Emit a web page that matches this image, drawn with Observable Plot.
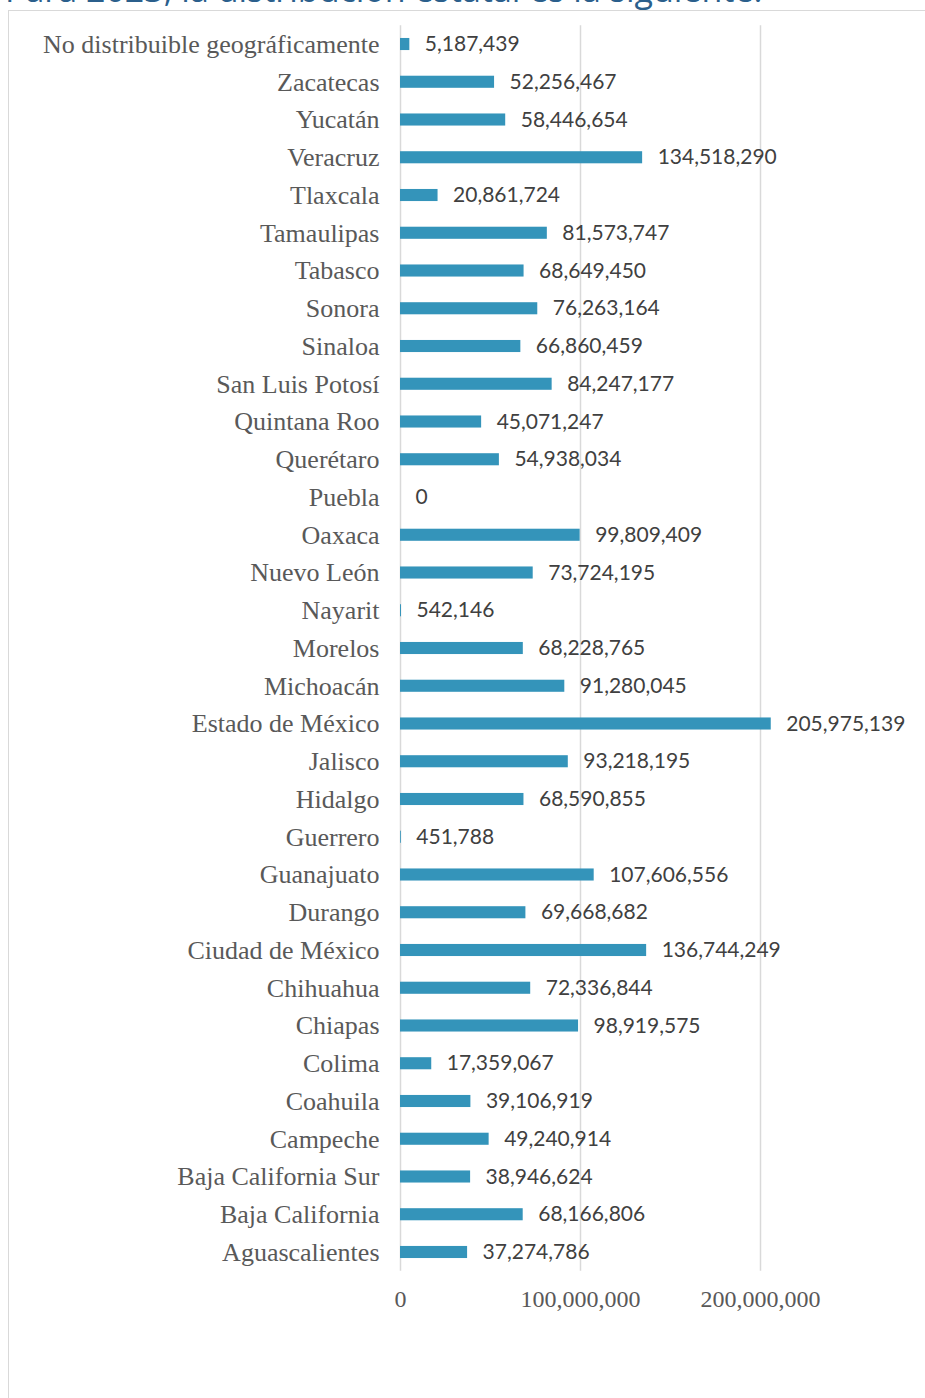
<!DOCTYPE html>
<html>
<head>
<meta charset="utf-8">
<script src="https://cdn.jsdelivr.net/npm/d3@7"></script>
<script src="https://cdn.jsdelivr.net/npm/@observablehq/plot@0.6"></script>
<style>
  html, body { margin: 0; padding: 0; background: #fff; }
  #wrap { position: relative; width: 925px; height: 1398px; overflow: hidden; }
  #title { position: absolute; left: 5px; top: -27.6px; font-family: "Open Sans", sans-serif; font-size: 34px; line-height: 34px; color: #2b5f8c; white-space: nowrap; }
  #frame { position: absolute; left: 8px; top: 10px; right: -2px; bottom: -2px; border-left: 1.5px solid #d9d9d9; border-top: 1.5px solid #d9d9d9; }
  #chart { position: absolute; left: 0; top: 0; }
</style>
</head>
<body>
<div id="wrap">
  <div id="title">Para 2023, la distribución estatal es la siguiente:</div>
  <div id="frame"></div>
  <div id="chart"></div>
</div>
<script>
const states = [
  "No distribuible geográficamente", "Zacatecas", "Yucatán", "Veracruz", "Tlaxcala",
  "Tamaulipas", "Tabasco", "Sonora", "Sinaloa", "San Luis Potosí", "Quintana Roo",
  "Querétaro", "Puebla", "Oaxaca", "Nuevo León", "Nayarit", "Morelos", "Michoacán",
  "Estado de México", "Jalisco", "Hidalgo", "Guerrero", "Guanajuato", "Durango",
  "Ciudad de México", "Chihuahua", "Chiapas", "Colima", "Coahuila", "Campeche",
  "Baja California Sur", "Baja California", "Aguascalientes"
];
const values = [
  5187439, 52256467, 58446654, 134518290, 20861724,
  81573747, 68649450, 76263164, 66860459, 84247177, 45071247,
  54938034, 0, 99809409, 73724195, 542146, 68228765, 91280045,
  205975139, 93218195, 68590855, 451788, 107606556, 69668682,
  136744249, 72336844, 98919575, 17359067, 39106919, 49240914,
  38946624, 68166806, 37274786
];
const xTicks = [0, 100000000, 200000000];

const data = states.map((s, i) => ({state: s, value: values[i]}));
const fmt = d3.format(",");

const chart = Plot.plot({
  width: 925,
  height: 1398,
  marginLeft: 400,
  marginRight: 75,
  marginTop: 12.3,
  marginBottom: 114.3,
  x: {domain: [0, 250000000]},
  y: {domain: states, padding: 0.68, round: false},
  marks: [
    Plot.ruleX(xTicks, {stroke: "#d9d9d9", strokeWidth: 1.5, insetTop: 13, insetBottom: 13}),
    Plot.barX(data, {x: "value", y: "state", fill: "#3494ba"}),
    Plot.text(data, {x: "value", y: "state", text: d => fmt(d.value), textAnchor: "start", dx: 15,
      fill: "#404040", fontSize: 21, fontFamily: "Lato, 'Open Sans', sans-serif"}),
    Plot.axisY({tickSize: 0, tickPadding: 21, label: null, fontSize: 26,
      fontFamily: "'Liberation Serif', serif", fill: "#595959"}),
    Plot.axisX(xTicks, {tickSize: 0, tickPadding: 6, label: null, tickFormat: fmt, fontSize: 24,
      fontFamily: "'Liberation Serif', serif", fill: "#595959", letterSpacing: 2})
  ]
});
chart.style.background = "transparent";
document.getElementById("chart").appendChild(chart);
</script>
</body>
</html>
